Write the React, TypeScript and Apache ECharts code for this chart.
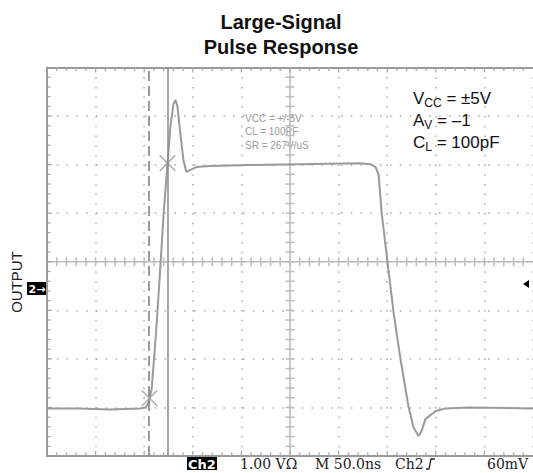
import { useEffect, useRef } from "react";
import * as echarts from "echarts";

// Waveform samples (time in ns, output in V)
const timeNs = [-250, -216, -185.5, -154.7, -148.6, -145.5, -142.4, -138.3, -134.2, -130.1, -126, -122.9, -119.9, -117.8, -115.8, -112.7, -109.6, -106.6, -102.5, -96.3, -83, -42, 9.2, 70.7, 83, 88.1, 91.2, 94.3, 100.4, 106.6, 113.7, 121.9, 127, 132.2, 135.3, 139.3, 149.6, 159.8, 183.4, 250];
const outputV = [-3.02, -3.02, -3.04, -3.02, -3.0, -2.9, -2.63, -1.6, -0.37, 0.97, 2.03, 2.81, 3.24, 3.33, 3.2, 2.61, 2.09, 1.85, 1.89, 1.95, 1.97, 1.99, 2.01, 2.03, 2.01, 1.95, 1.79, 1.01, -0.02, -1.05, -2.01, -2.98, -3.41, -3.59, -3.49, -3.24, -3.08, -3.02, -3.0, -3.02];

// Cursor positions
const solidCursorNs = -126;
const dashedCursorNs = -145;
const markerTimeNs = [-126, -144.5];
const markerVolts = [2.03, -2.81];

// Axis ranges (50 ns/div, 1 V/div, 5 minor ticks per division)
const timeMin = -250;
const timeMax = 250;
const timeStep = 50;
const voltMin = -4;
const voltMax = 4;
const voltStep = 1;
const minorPerDiv = 5;

// Texts
const titleLines = ["Large-Signal", "Pulse Response"];
const yAxisTitle = "OUTPUT";
const conditionLines = [
  "{m|V}{s|CC}{m| = ±5V}",
  "{m|A}{s|V}{m| = –1}",
  "{m|C}{s|L}{m| = 100pF}",
];
const scopeNotes = ["VCC = +/-5V", "CL = 100PF", "SR = 267V/uS"];
const bottomLabels = ["1.00 VΩ", "M 50.0ns", "Ch2", "60mV"];

export default function App() {
  const ref = useRef<HTMLDivElement>(null);
  useEffect(() => {
    document.body.style.margin = "0";
    if (!ref.current) return;
    const chart = echarts.init(ref.current, undefined, { renderer: "svg" });
    const border = "#9a9a9a";
    const tickColor = "#a8a8a8";
    const centerColor = "#bdbdbd";
    const pts = timeNs.map((t, i) => [t, outputV[i]]);
    const marks = markerTimeNs.map((t, i) => [t, markerVolts[i]]);

    const graticule = (params: any, api: any) => {
      const [xl, yb] = api.coord([timeMin, voltMin]);
      const [xr, yt] = api.coord([timeMax, voltMax]);
      const [cx, cy] = api.coord([0, 0]);
      const children: any[] = [];
      const ln = (x1: number, y1: number, x2: number, y2: number, stroke: string, w: number) =>
        children.push({
          type: "line",
          shape: { x1, y1, x2, y2 },
          style: { stroke, lineWidth: w },
          silent: true,
        });
      ln(xl, cy, xr, cy, centerColor, 1.6);
      ln(cx, yt, cx, yb, centerColor, 1.6);
      const nx = ((timeMax - timeMin) / timeStep) * minorPerDiv;
      for (let k = 1; k < nx; k++) {
        const x = api.coord([timeMin + (k * timeStep) / minorPerDiv, 0])[0];
        const major = k % minorPerDiv === 0;
        ln(x, cy - 4.5, x, cy + 4.5, centerColor, 1.5);
        ln(x, yt, x, yt + (major ? 5 : 3.5), tickColor, 1.3);
        ln(x, yb, x, yb - (major ? 5 : 3.5), tickColor, 1.3);
      }
      const ny = ((voltMax - voltMin) / voltStep) * minorPerDiv;
      for (let k = 1; k < ny; k++) {
        const y = api.coord([0, voltMin + (k * voltStep) / minorPerDiv])[1];
        const major = k % minorPerDiv === 0;
        ln(cx - 4.5, y, cx + 4.5, y, centerColor, 1.5);
        ln(xl, y, xl + (major ? 5 : 3.5), y, tickColor, 1.3);
      }
      return { type: "group", children };
    };

    chart.setOption({
      animation: false,
      grid: { left: 47, top: 67.5, right: -3, bottom: 17 },
      xAxis: [
        {
          type: "value",
          min: timeMin,
          max: timeMax,
          interval: timeStep,
          position: "bottom",
          axisLabel: { show: false },
          axisTick: { show: false },
          axisLine: { show: true, onZero: false, lineStyle: { color: border, width: 2 } },
          splitLine: { show: true, lineStyle: { color: "#a8a8a8", width: 1.5, type: [1.5, 8.2] } },
        },
        {
          type: "value",
          min: timeMin,
          max: timeMax,
          interval: timeStep,
          position: "top",
          axisLabel: { show: false },
          axisTick: { show: false },
          axisLine: { show: true, onZero: false, lineStyle: { color: border, width: 2 } },
          splitLine: { show: false },
        },
      ],
      yAxis: [
        {
          type: "value",
          min: voltMin,
          max: voltMax,
          interval: voltStep,
          position: "left",
          axisLabel: { show: false },
          axisTick: { show: false },
          axisLine: { show: true, onZero: false, lineStyle: { color: border, width: 2 } },
          splitLine: { show: true, lineStyle: { color: "#a8a8a8", width: 1.5, type: [1.5, 8.3] } },
        },
      ],
      series: [
        {
          type: "custom",
          xAxisIndex: 0,
          yAxisIndex: 0,
          data: [[0, 0]],
          renderItem: graticule,
          silent: true,
          z: 1,
        },
        {
          type: "line",
          xAxisIndex: 0,
          yAxisIndex: 0,
          data: pts,
          showSymbol: false,
          symbol: "none",
          lineStyle: { color: "#9a9a9a", width: 2 },
          z: 3,
          markLine: {
            silent: true,
            symbol: ["none", "none"],
            label: { show: false },
            data: [
              { xAxis: solidCursorNs, lineStyle: { type: "solid", color: "#8a8a8a", width: 1.5 } },
              { xAxis: dashedCursorNs, lineStyle: { type: [10, 5], color: "#7a7a7a", width: 1.5 } },
            ],
          },
        },
        {
          type: "scatter",
          xAxisIndex: 0,
          yAxisIndex: 0,
          data: marks,
          symbol: "rect",
          symbolSize: [22, 1.5],
          symbolRotate: 45,
          itemStyle: { color: "#9a9a9a" },
          z: 4,
        },
        {
          type: "scatter",
          xAxisIndex: 0,
          yAxisIndex: 0,
          data: marks,
          symbol: "rect",
          symbolSize: [22, 1.5],
          symbolRotate: -45,
          itemStyle: { color: "#9a9a9a" },
          z: 4,
        },
      ],
      graphic: [
        {
          type: "text",
          x: 281,
          y: 34,
          style: {
            text: titleLines.join("\n"),
            font: "bold 20px 'Liberation Sans', Arial, sans-serif",
            fill: "#111",
            align: "center",
            verticalAlign: "middle",
            lineHeight: 25,
          },
        },
        {
          type: "text",
          x: 16,
          y: 282,
          rotation: Math.PI / 2,
          style: {
            text: yAxisTitle,
            font: "15px 'Liberation Sans', Arial, sans-serif",
            fill: "#222",
            align: "center",
            verticalAlign: "middle",
          },
        },
        {
          type: "rect",
          shape: { x: 27, y: 282, width: 20, height: 13 },
          style: { fill: "#000" },
        },
        {
          type: "text",
          x: 37,
          y: 289,
          style: {
            text: "2→",
            font: "bold 11px 'DejaVu Sans', sans-serif",
            fill: "#fff",
            align: "center",
            verticalAlign: "middle",
          },
        },
        {
          type: "polygon",
          shape: { points: [[523, 284], [529, 280], [529, 288]] },
          style: { fill: "#000" },
        },
        ...conditionLines.map((line, i) => ({
          type: "text",
          x: 413,
          y: 98 + i * 22,
          style: {
            text: line,
            align: "left",
            verticalAlign: "middle",
            rich: {
              m: {
                font: "17px 'Liberation Sans', Arial, sans-serif",
                fill: "#111",
                lineHeight: 22,
                verticalAlign: "middle",
              },
              s: {
                font: "12px 'Liberation Sans', Arial, sans-serif",
                fill: "#111",
                lineHeight: 6,
                verticalAlign: "bottom",
              },
            },
          },
        })),
        ...scopeNotes.map((line, i) => ({
          type: "text",
          x: 245,
          y: 118 + i * 13.5,
          style: {
            text: line,
            font: "10px 'Liberation Sans', Arial, sans-serif",
            fill: "#9a9a9a",
            align: "left",
            verticalAlign: "middle",
          },
        })),
        {
          type: "rect",
          shape: { x: 187, y: 457, width: 30, height: 13 },
          style: { fill: "#000" },
        },
        {
          type: "text",
          x: 202,
          y: 464,
          style: {
            text: "Ch2",
            font: "bold 13px 'DejaVu Sans', sans-serif",
            fill: "#fff",
            align: "center",
            verticalAlign: "middle",
          },
        },
        ...bottomLabels.map((t, i) => ({
          type: "text",
          x: [240, 315, 395, 487][i],
          y: 464,
          style: {
            text: t,
            font: "14px 'DejaVu Serif', 'Liberation Serif', serif",
            fill: "#222",
            align: "left",
            verticalAlign: "middle",
          },
        })),
        {
          type: "polyline",
          shape: { points: [[426, 469], [429, 469], [431, 459], [435, 459]] },
          style: { stroke: "#222", lineWidth: 1.3, fill: "none" },
        },
      ],
    });
    return () => chart.dispose();
  }, []);
  return <div ref={ref} style={{ width: 533, height: 473 }} />;
}
